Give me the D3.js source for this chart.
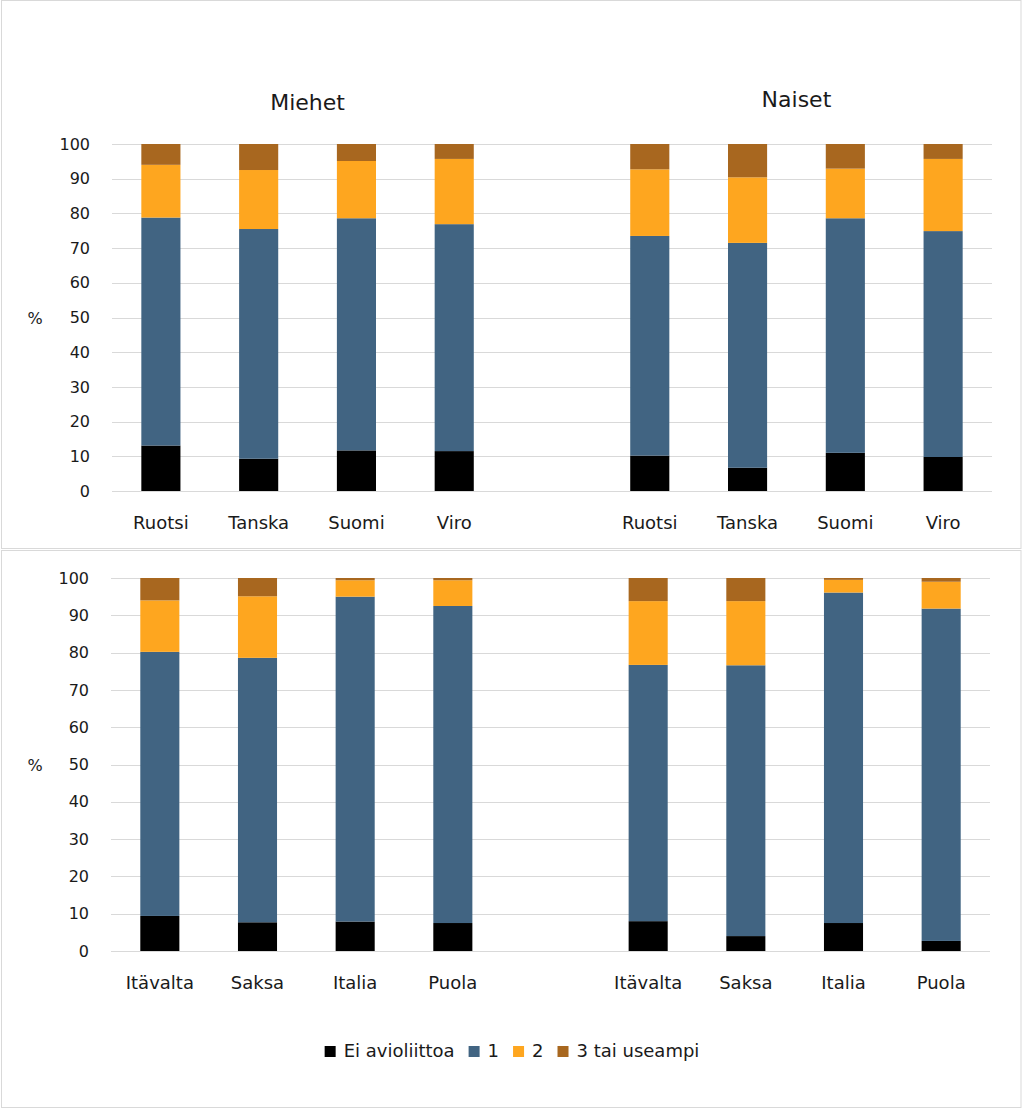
<!DOCTYPE html>
<html><head><meta charset="utf-8">
<script src="https://cdn.jsdelivr.net/npm/d3@7"></script>
<style>body{margin:0;background:#fff}svg{display:block}text{font-family:"DejaVu Sans",sans-serif;fill:#1a1a1a}</style>
</head><body><svg id="c" width="1024" height="1110"></svg>
<script>
const seriesNames = ["Ei avioliittoa", "1", "2", "3 tai useampi"];
const colors = ["#000000", "#416482", "#FEA61F", "#A8671F"];
const groupTitles = ["Miehet", "Naiset"];
const topCountries = ["Ruotsi", "Tanska", "Suomi", "Viro"];
const bottomCountries = ["Itävalta", "Saksa", "Italia", "Puola"];
const yTicks = [0,10,20,30,40,50,60,70,80,90,100];
// values: men (4) then women (4)
const top_ei = [13.1, 9.3, 11.7, 11.5, 10.2, 6.7, 11.0, 9.8];
const top_1  = [65.7, 66.2, 66.9, 65.4, 63.3, 64.8, 67.6, 65.1];
const top_2  = [15.2, 17.0, 16.5, 18.8, 19.2, 18.9, 14.3, 20.8];
const top_3  = [6.0, 7.5, 4.9, 4.3, 7.3, 9.6, 7.1, 4.3];
const bot_ei = [9.4, 7.7, 7.9, 7.5, 8.0, 4.0, 7.5, 2.7];
const bot_1  = [70.8, 70.9, 87.1, 85.0, 68.7, 72.6, 88.6, 89.1];
const bot_2  = [13.8, 16.5, 4.4, 6.9, 17.1, 17.2, 3.4, 7.2];
const bot_3  = [6.0, 4.9, 0.6, 0.6, 6.2, 6.2, 0.5, 1.0];

const svg = d3.select("#c");
// panel borders
svg.append("rect").attr("x",1.5).attr("y",0.5).attr("width",1019.5).attr("height",548).attr("fill","none").attr("stroke","#d9d9d9");
svg.append("rect").attr("x",1.5).attr("y",550.5).attr("width",1019.5).attr("height",557).attr("fill","none").attr("stroke","#d9d9d9");

function panel(countries, cols, box, showTitles){
  const keys = [];
  countries.forEach((c,i)=>keys.push("M"+i));
  keys.push("gap");
  countries.forEach((c,i)=>keys.push("N"+i));
  const x = d3.scaleBand().domain(keys).range([box.x0, box.x1]).paddingInner(0.6).paddingOuter(0.3);
  const y = d3.scaleLinear().domain([0,100]).range([box.y0, box.y1]);
  const g = svg.append("g");
  // grid
  g.selectAll("line.grid").data(yTicks).enter().append("line")
    .attr("x1", box.x0).attr("x2", box.x1)
    .attr("y1", d=>Math.round(y(d))+0.5).attr("y2", d=>Math.round(y(d))+0.5)
    .attr("stroke","#d9d9d9").attr("stroke-width",1);
  // y axis labels
  const ya = g.append("g").attr("transform",`translate(${box.x0-22},0)`)
    .call(d3.axisLeft(y).tickValues(yTicks).tickSize(0).tickPadding(0));
  ya.select(".domain").remove();
  ya.selectAll("text").attr("font-size",16).attr("fill","#1a1a1a").style("font-family","'DejaVu Sans',sans-serif");
  g.append("text").attr("x",35).attr("y",(y(0)+y(100))/2+6).attr("text-anchor","middle").attr("font-size",16).text("%");
  // data rows
  const rows = keys.filter(k=>k!=="gap").map((k,i)=>{
    const r = {key:k};
    seriesNames.forEach((s,j)=>r[s]=cols[j][i]);
    return r;
  });
  const stack = d3.stack().keys(seriesNames)(rows);
  stack.forEach((layer,j)=>{
    g.append("g").attr("fill",colors[j]).selectAll("rect").data(layer).enter().append("rect")
      .attr("x", d=>x(d.data.key)).attr("width", x.bandwidth())
      .attr("y", d=>y(d[1])).attr("height", d=>y(d[0])-y(d[1]));
  });
  // x axis labels
  const xa = g.append("g").attr("transform",`translate(0,${box.y0+38})`)
    .call(d3.axisBottom(x).tickSize(0).tickPadding(0).tickFormat(k=>k==="gap"?"":countries[+k.slice(1)]));
  xa.select(".domain").remove();
  xa.selectAll("text").attr("font-size",18).attr("dy",0).attr("fill","#1a1a1a").style("font-family","'DejaVu Sans',sans-serif");
  if(showTitles){
    const mc = (x("M0")+x("M3")+x.bandwidth())/2;
    const nc = (x("N0")+x("N3")+x.bandwidth())/2;
    g.append("text").attr("x",mc).attr("y",110).attr("text-anchor","middle").attr("font-size",22).text(groupTitles[0]);
    g.append("text").attr("x",nc).attr("y",107).attr("text-anchor","middle").attr("font-size",22).text(groupTitles[1]);
  }
}
panel(topCountries, [top_ei, top_1, top_2, top_3], {x0:112, x1:992, y0:491, y1:144}, true);
panel(bottomCountries, [bot_ei, bot_1, bot_2, bot_3], {x0:111, x1:990, y0:951, y1:578}, false);

// legend
const leg = svg.append("g");
let cx = 0;
const items = [];
seriesNames.forEach((s,i)=>{
  const it = leg.append("g").attr("transform",`translate(${cx},0)`);
  it.append("rect").attr("x",0).attr("y",-11).attr("width",11).attr("height",11).attr("fill",colors[i]);
  const t = it.append("text").attr("x",19).attr("y",0).attr("font-size",18).text(s);
  const w = t.node().getComputedTextLength();
  cx += 19 + w + 14;
});
const total = cx - 14;
leg.attr("transform",`translate(${512 - total/2},1057)`);
</script></body></html>
